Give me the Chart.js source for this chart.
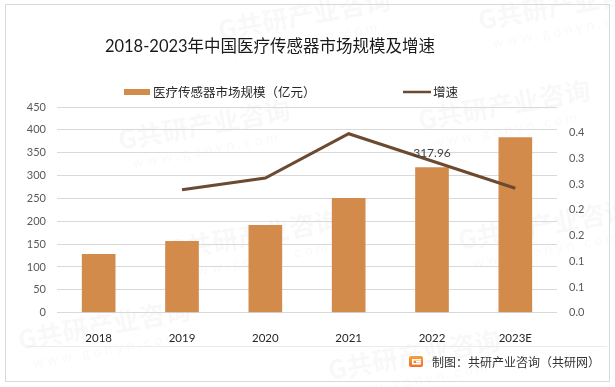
<!DOCTYPE html>
<html>
<head>
<meta charset="utf-8">
<script src="https://cdn.jsdelivr.net/npm/chart.js@4.4.0/dist/chart.umd.min.js"></script>
<style>
  html, body { margin: 0; padding: 0; background: #fff; }
  canvas { display: block; }
</style>
</head>
<body>
<canvas id="chart" width="615" height="387"></canvas>
<script>
// values
const years = ['2018', '2019', '2020', '2021', '2022', '2023E'];
const marketSize = [128.4, 156.9, 191.9, 251.0, 317.96, 384.0];
const growthRate = [null, 0.239, 0.262, 0.348, 0.295, 0.242];
const rightTickLabels = ['0.0', '0.1', '0.1', '0.2', '0.2', '0.3', '0.3', '0.4'];
const labelledIndex = 4; // only 2022 carries a value label

const titleText = '2018-2023年中国医疗传感器市场规模及增速';
const barLegend = '医疗传感器市场规模（亿元）';
const lineLegend = '增速';
const sourceText = '制图：共研产业咨询（共研网）';

const FONT = '"Lato", "Noto Sans CJK SC", sans-serif';
const CJK = '"Noto Sans CJK SC", sans-serif';
const BAR_COLOR = '#d38b4c';
const LINE_COLOR = '#6b4a31';
const TICK_COLOR = '#595959';

const decor = {
  id: 'decor',
  beforeDraw(chart) {
    const ctx = chart.ctx;
    ctx.save();
    ctx.fillStyle = '#fff';
    ctx.fillRect(0, 0, chart.width, chart.height);

    // faint watermarks
    ctx.fillStyle = 'rgba(0,0,0,0.028)';
    const marks = [[220, 40], [480, 30], [120, 150], [420, 130], [170, 260], [460, 250], [330, 380], [20, 350]];
    marks.forEach(([x, y]) => {
      ctx.save();
      ctx.translate(x, y);
      ctx.rotate(-0.18);
      ctx.font = 'bold 26px ' + CJK;
      ctx.fillText('G共研产业咨询', 0, 0);
      ctx.font = '14px ' + FONT;
      ctx.fillText('w w w . g o n y n . c o m', 10, 20);
      ctx.restore();
    });

    // outer frame
    ctx.strokeStyle = '#d9d9d9';
    ctx.lineWidth = 1;
    ctx.strokeRect(5.5, 4.5, 604, 377);

    // separator above the source line
    ctx.strokeStyle = '#ebebeb';
    ctx.beginPath();
    ctx.moveTo(27, 346.5);
    ctx.lineTo(607, 346.5);
    ctx.stroke();
    ctx.restore();
  },
  afterDraw(chart) {
    const ctx = chart.ctx;
    ctx.save();

    // title
    ctx.fillStyle = '#1a1a1a';
    ctx.font = '16.5px ' + FONT;
    ctx.textAlign = 'center';
    ctx.textBaseline = 'middle';
    ctx.fillText(titleText, 270, 47);

    // legend
    ctx.textAlign = 'left';
    ctx.font = '12.5px ' + FONT;
    ctx.fillStyle = BAR_COLOR;
    ctx.fillRect(124, 89, 26, 6);
    ctx.fillStyle = '#262626';
    ctx.fillText(barLegend, 153, 92.5);
    ctx.strokeStyle = LINE_COLOR;
    ctx.lineWidth = 2.5;
    ctx.beginPath();
    ctx.moveTo(403, 92);
    ctx.lineTo(431, 92);
    ctx.stroke();
    ctx.fillText(lineLegend, 433, 92.5);

    // value label
    const bar = chart.getDatasetMeta(1).data[labelledIndex];
    ctx.fillStyle = '#404040';
    ctx.font = '12px ' + FONT;
    ctx.textAlign = 'center';
    ctx.fillText(marketSize[labelledIndex].toFixed(2), bar.x, bar.y - 14);

    // source logo + text
    const g = ctx.createLinearGradient(409, 356, 409, 367);
    g.addColorStop(0, '#f6a13a');
    g.addColorStop(1, '#ef6b2a');
    ctx.fillStyle = g;
    ctx.beginPath();
    ctx.roundRect(409, 356, 14, 11, 2);
    ctx.fill();
    ctx.fillStyle = '#fff';
    ctx.fillRect(412, 359, 9, 1.6);
    ctx.fillRect(412, 359, 1.6, 5);
    ctx.fillRect(412, 363, 9, 1.6);
    ctx.fillRect(416, 361, 5, 1.6);
    ctx.fillStyle = '#333';
    ctx.font = '12px ' + CJK;
    ctx.textAlign = 'left';
    ctx.fillText(sourceText, 432, 362);
    ctx.restore();
  }
};

new Chart(document.getElementById('chart'), {
  type: 'bar',
  data: {
    labels: years,
    datasets: [
      {
        type: 'line',
        label: lineLegend,
        data: growthRate,
        yAxisID: 'y1',
        borderColor: LINE_COLOR,
        backgroundColor: LINE_COLOR,
        borderWidth: 3,
        pointRadius: 0,
        tension: 0,
        order: 1
      },
      {
        label: barLegend,
        data: marketSize,
        yAxisID: 'y',
        backgroundColor: BAR_COLOR,
        categoryPercentage: 1,
        barPercentage: 0.404,
        order: 2
      }
    ]
  },
  options: {
    responsive: false,
    animation: false,
    devicePixelRatio: 1,
    layout: { padding: { top: 107, left: 0, right: 0, bottom: 0 } },
    plugins: {
      legend: { display: false },
      title: { display: false },
      tooltip: { enabled: false }
    },
    scales: {
      x: {
        grid: { display: false },
        border: { display: false },
        ticks: { color: '#262626', font: { family: FONT, size: 11.5 }, padding: 11 },
        afterFit: (s) => { s.height = 74.3; }
      },
      y: {
        position: 'left',
        min: 0,
        max: 450,
        ticks: { stepSize: 50, color: TICK_COLOR, font: { family: FONT, size: 11 }, padding: 11 },
        grid: { color: '#d9d9d9', drawTicks: false },
        border: { display: false },
        afterFit: (s) => { s.width = 57; }
      },
      y1: {
        position: 'right',
        min: 0,
        max: 0.4,
        ticks: {
          stepSize: 0.05,
          color: TICK_COLOR,
          font: { family: FONT, size: 11 },
          padding: 12,
          callback: (v, i) => rightTickLabels[i]
        },
        grid: { display: false, drawTicks: false },
        border: { display: false },
        afterFit: (s) => { s.width = 58; }
      }
    }
  },
  plugins: [decor]
});
</script>
</body>
</html>
